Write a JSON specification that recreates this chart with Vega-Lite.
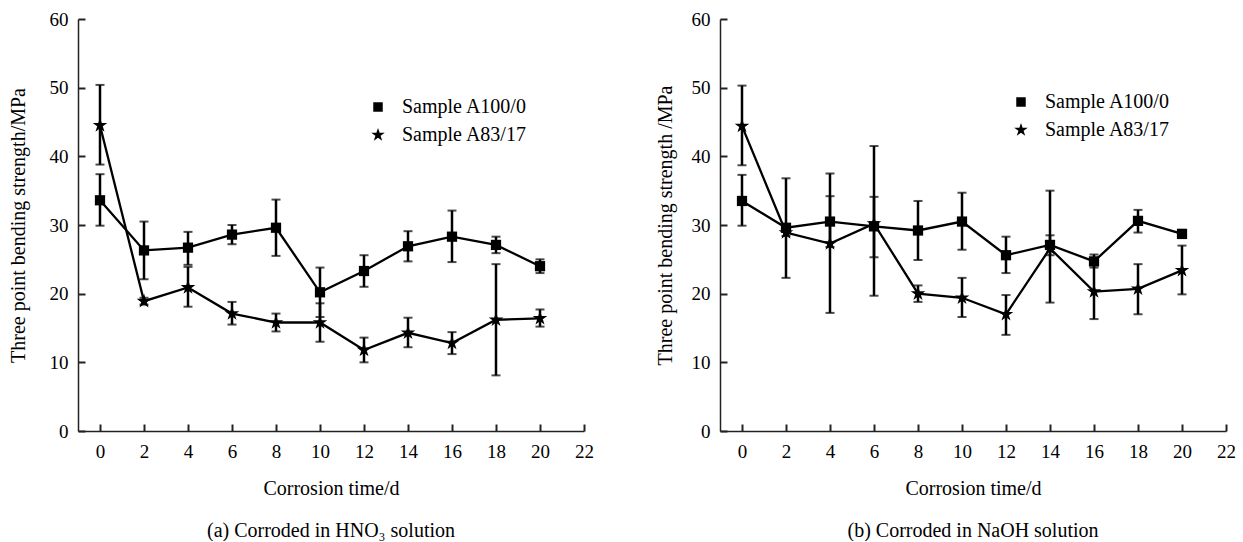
{
  "$schema": "https://vega.github.io/schema/vega-lite/v6.json",
  "padding": {"left": 8, "top": 10, "right": 0, "bottom": 0},
  "background": "white",
  "bounds": "flush",
  "spacing": 136,
  "config": {
    "view": {"stroke": null},
    "font": "Liberation Serif",
    "axis": {
      "grid": false,
      "domainColor": "#222",
      "domainWidth": 1.5,
      "tickColor": "#222",
      "tickWidth": 2,
      "tickSize": -7,
      "labelFont": "Liberation Serif",
      "labelFontSize": 19,
      "labelColor": "black",
      "titleFont": "Liberation Serif",
      "titleFontSize": 20,
      "titleFontWeight": "normal",
      "titleColor": "black"
    },
    "axisX": {"labelPadding": 18, "titleY": 57, "titleBaseline": "middle", "labelFlush": false},
    "axisY": {"labelPadding": 17, "titleY": 206, "titleBaseline": "middle", "titleAlign": "center", "titleAngle": -90},
    "title": {"font": "Liberation Serif", "fontSize": 20, "fontWeight": "normal", "color": "black", "orient": "bottom", "anchor": "middle", "offset": 23},
    "legend": {
      "labelFont": "Liberation Serif",
      "labelFontSize": 20,
      "labelColor": "black",
      "padding": 0,
      "rowPadding": 8,
      "labelOffset": 14,
      "symbolFillColor": "black",
      "symbolStrokeColor": "black",
      "symbolStrokeWidth": 0,
      "symbolSize": 90
    }
  },
  "data": {
    "values": [
      {"solution": "HNO3", "sample": "Sample A100/0", "day": 0, "mean": 33.6, "lower": 29.9, "upper": 37.4},
      {"solution": "HNO3", "sample": "Sample A100/0", "day": 2, "mean": 26.3, "lower": 22.1, "upper": 30.5},
      {"solution": "HNO3", "sample": "Sample A100/0", "day": 4, "mean": 26.7, "lower": 24.2, "upper": 29.0},
      {"solution": "HNO3", "sample": "Sample A100/0", "day": 6, "mean": 28.6, "lower": 27.2, "upper": 30.0},
      {"solution": "HNO3", "sample": "Sample A100/0", "day": 8, "mean": 29.6, "lower": 25.5, "upper": 33.7},
      {"solution": "HNO3", "sample": "Sample A100/0", "day": 10, "mean": 20.2, "lower": 16.6, "upper": 23.8},
      {"solution": "HNO3", "sample": "Sample A100/0", "day": 12, "mean": 23.3, "lower": 21.0, "upper": 25.6},
      {"solution": "HNO3", "sample": "Sample A100/0", "day": 14, "mean": 26.9, "lower": 24.7, "upper": 29.1},
      {"solution": "HNO3", "sample": "Sample A100/0", "day": 16, "mean": 28.3, "lower": 24.6, "upper": 32.1},
      {"solution": "HNO3", "sample": "Sample A100/0", "day": 18, "mean": 27.1, "lower": 25.9, "upper": 28.3},
      {"solution": "HNO3", "sample": "Sample A100/0", "day": 20, "mean": 24.0, "lower": 23.0, "upper": 25.0},
      {"solution": "HNO3", "sample": "Sample A83/17", "day": 0, "mean": 44.5, "lower": 38.8, "upper": 50.4},
      {"solution": "HNO3", "sample": "Sample A83/17", "day": 2, "mean": 18.9, "lower": 18.4, "upper": 19.4},
      {"solution": "HNO3", "sample": "Sample A83/17", "day": 4, "mean": 20.9, "lower": 18.1, "upper": 23.9},
      {"solution": "HNO3", "sample": "Sample A83/17", "day": 6, "mean": 17.1, "lower": 15.5, "upper": 18.8},
      {"solution": "HNO3", "sample": "Sample A83/17", "day": 8, "mean": 15.8, "lower": 14.5, "upper": 17.1},
      {"solution": "HNO3", "sample": "Sample A83/17", "day": 10, "mean": 15.8, "lower": 13.0, "upper": 18.6},
      {"solution": "HNO3", "sample": "Sample A83/17", "day": 12, "mean": 11.8, "lower": 10.0, "upper": 13.6},
      {"solution": "HNO3", "sample": "Sample A83/17", "day": 14, "mean": 14.3, "lower": 12.2, "upper": 16.5},
      {"solution": "HNO3", "sample": "Sample A83/17", "day": 16, "mean": 12.8, "lower": 11.2, "upper": 14.4},
      {"solution": "HNO3", "sample": "Sample A83/17", "day": 18, "mean": 16.2, "lower": 8.1, "upper": 24.3},
      {"solution": "HNO3", "sample": "Sample A83/17", "day": 20, "mean": 16.4, "lower": 15.2, "upper": 17.7},
      {"solution": "NaOH", "sample": "Sample A100/0", "day": 0, "mean": 33.5, "lower": 29.9, "upper": 37.3},
      {"solution": "NaOH", "sample": "Sample A100/0", "day": 2, "mean": 29.6, "lower": 22.3, "upper": 36.8},
      {"solution": "NaOH", "sample": "Sample A100/0", "day": 4, "mean": 30.5, "lower": 26.8, "upper": 34.2},
      {"solution": "NaOH", "sample": "Sample A100/0", "day": 6, "mean": 29.8, "lower": 19.7, "upper": 41.5},
      {"solution": "NaOH", "sample": "Sample A100/0", "day": 8, "mean": 29.2, "lower": 24.9, "upper": 33.5},
      {"solution": "NaOH", "sample": "Sample A100/0", "day": 10, "mean": 30.5, "lower": 26.4, "upper": 34.7},
      {"solution": "NaOH", "sample": "Sample A100/0", "day": 12, "mean": 25.6, "lower": 23.0, "upper": 28.3},
      {"solution": "NaOH", "sample": "Sample A100/0", "day": 14, "mean": 27.1, "lower": 25.6, "upper": 28.5},
      {"solution": "NaOH", "sample": "Sample A100/0", "day": 16, "mean": 24.7, "lower": 23.8, "upper": 25.7},
      {"solution": "NaOH", "sample": "Sample A100/0", "day": 18, "mean": 30.6, "lower": 28.9, "upper": 32.2},
      {"solution": "NaOH", "sample": "Sample A100/0", "day": 20, "mean": 28.7, "lower": 28.1, "upper": 29.3},
      {"solution": "NaOH", "sample": "Sample A83/17", "day": 0, "mean": 44.4, "lower": 38.7, "upper": 50.3},
      {"solution": "NaOH", "sample": "Sample A83/17", "day": 2, "mean": 28.9, "lower": 28.4, "upper": 29.4},
      {"solution": "NaOH", "sample": "Sample A83/17", "day": 4, "mean": 27.3, "lower": 17.2, "upper": 37.5},
      {"solution": "NaOH", "sample": "Sample A83/17", "day": 6, "mean": 30.2, "lower": 25.3, "upper": 34.1},
      {"solution": "NaOH", "sample": "Sample A83/17", "day": 8, "mean": 20.0, "lower": 18.8, "upper": 21.2},
      {"solution": "NaOH", "sample": "Sample A83/17", "day": 10, "mean": 19.4, "lower": 16.6, "upper": 22.3},
      {"solution": "NaOH", "sample": "Sample A83/17", "day": 12, "mean": 17.0, "lower": 14.0, "upper": 19.8},
      {"solution": "NaOH", "sample": "Sample A83/17", "day": 14, "mean": 26.6, "lower": 18.7, "upper": 35.0},
      {"solution": "NaOH", "sample": "Sample A83/17", "day": 16, "mean": 20.3, "lower": 16.3, "upper": 24.3},
      {"solution": "NaOH", "sample": "Sample A83/17", "day": 18, "mean": 20.7, "lower": 17.0, "upper": 24.3},
      {"solution": "NaOH", "sample": "Sample A83/17", "day": 20, "mean": 23.4, "lower": 19.9, "upper": 27.0}
    ]
  },
  "hconcat": [
    {
      "width": 506,
      "height": 412,
      "title": {"text": "(a) Corroded in HNO₃ solution"},
      "transform": [{"filter": "datum.solution === 'HNO3'"}],
      "encoding": {
        "x": {
          "field": "day", "type": "quantitative",
          "scale": {"domain": [-1, 22], "nice": false, "zero": false},
          "axis": {"values": [0, 2, 4, 6, 8, 10, 12, 14, 16, 18, 20, 22], "title": "Corrosion time/d"}
        }
      },
      "layer": [
        {
          "mark": {"type": "line", "color": "black", "strokeWidth": 2.3},
          "encoding": {
            "y": {"field": "mean", "type": "quantitative", "title": "Three point bending strength/MPa", "scale": {"domain": [0, 60], "nice": false},
              "axis": {"values": [0, 10, 20, 30, 40, 50, 60], "titleX": -60}},
            "detail": {"field": "sample"}
          }
        },
        {
          "mark": {"type": "errorbar", "color": "black", "thickness": 2.5, "ticks": {"size": 9, "thickness": 2, "color": "black"}},
          "encoding": {
            "y": {"field": "lower", "type": "quantitative", "title": "Three point bending strength/MPa"},
            "y2": {"field": "upper"},
            "detail": {"field": "sample"}
          }
        },
        {
          "mark": {"type": "point", "filled": true, "color": "black", "opacity": 1},
          "encoding": {
            "y": {"field": "mean", "type": "quantitative", "title": "Three point bending strength/MPa"},
            "shape": {
              "field": "sample", "type": "nominal",
              "scale": {"domain": ["Sample A100/0", "Sample A83/17"],
                "range": ["square", "M0,-1.5L0.337,-0.464L1.427,-0.464L0.545,0.177L0.882,1.214L0,0.573L-0.882,1.214L-0.545,0.177L-1.427,-0.464L-0.337,-0.464Z"]},
              "legend": {"title": null, "orient": "none", "legendX": 290, "legendY": 78}
            },
            "size": {"value": 105}
          }
        }
      ]
    },
    {
      "width": 506,
      "height": 412,
      "title": {"text": "(b) Corroded in NaOH solution"},
      "transform": [{"filter": "datum.solution === 'NaOH'"}],
      "encoding": {
        "x": {
          "field": "day", "type": "quantitative",
          "scale": {"domain": [-1, 22], "nice": false, "zero": false},
          "axis": {"values": [0, 2, 4, 6, 8, 10, 12, 14, 16, 18, 20, 22], "title": "Corrosion time/d"}
        }
      },
      "layer": [
        {
          "mark": {"type": "line", "color": "black", "strokeWidth": 2.3},
          "encoding": {
            "y": {"field": "mean", "type": "quantitative", "title": "Three point bending strength /MPa", "scale": {"domain": [0, 60], "nice": false},
              "axis": {"values": [0, 10, 20, 30, 40, 50, 60], "titleX": -55}},
            "detail": {"field": "sample"}
          }
        },
        {
          "mark": {"type": "errorbar", "color": "black", "thickness": 2.5, "ticks": {"size": 9, "thickness": 2, "color": "black"}},
          "encoding": {
            "y": {"field": "lower", "type": "quantitative", "title": "Three point bending strength /MPa"},
            "y2": {"field": "upper"},
            "detail": {"field": "sample"}
          }
        },
        {
          "mark": {"type": "point", "filled": true, "color": "black", "opacity": 1},
          "encoding": {
            "y": {"field": "mean", "type": "quantitative", "title": "Three point bending strength /MPa"},
            "shape": {
              "field": "sample", "type": "nominal",
              "scale": {"domain": ["Sample A100/0", "Sample A83/17"],
                "range": ["square", "M0,-1.5L0.337,-0.464L1.427,-0.464L0.545,0.177L0.882,1.214L0,0.573L-0.882,1.214L-0.545,0.177L-1.427,-0.464L-0.337,-0.464Z"]},
              "legend": {"title": null, "orient": "none", "legendX": 291, "legendY": 73}
            },
            "size": {"value": 105}
          }
        }
      ]
    }
  ],
  "resolve": {"scale": {"shape": "independent"}, "legend": {"shape": "independent"}}
}
